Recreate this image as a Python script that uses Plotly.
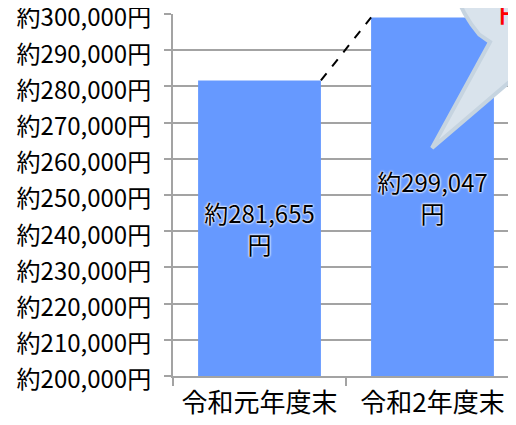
import math
import plotly.graph_objects as go

# --- Data ---
categories = ['令和元年度末', '令和2年度末']
values = [281655, 299047]
bar_labels = ['約281,655<br>円', '約299,047<br>円']
Y_MIN, Y_MAX, Y_STEP = 200000, 300000, 10000
y_ticks = list(range(Y_MIN, Y_MAX + 1, Y_STEP))

# --- Layout constants (pixels) ---
OFF = 8  # page body margin
W, H = 516 - OFF, 425 - OFF
M_L, M_T, M_B = 173 - OFF, 14 - OFF, 49
PLOT_W = W - M_L
PLOT_H = H - M_T - M_B
BARGAP = 0.29
FONT = 'Noto Sans CJK JP'
GREY = '#a3a3a3'


def px_to_paper(px, py):
    # px, py in window pixels
    return (px - OFF - M_L) / PLOT_W, (H - M_B - (py - OFF)) / PLOT_H


fig = go.Figure()
# bars start at the axis floor so the inside labels sit in the visible part
fig.add_trace(go.Bar(
    x=categories, y=[v - Y_MIN for v in values], base=[Y_MIN] * len(values),
    text=bar_labels, textposition='inside', insidetextanchor='middle',
    textangle=0,
    textfont=dict(family=FONT, size=24, color='black',
                  shadow='0 0 2px white, 0 0 2px white, 0 0 3px white'),
    marker=dict(color='#6699ff', line=dict(width=0)),
    hoverinfo='skip', cliponaxis=False,
))

# dashed connector between bar tops
half = (1 - BARGAP) / 2
fig.add_shape(type='line', xref='x', yref='y',
              x0=0 + half, y0=values[0], x1=1 - half, y1=values[1],
              line=dict(color='black', width=2, dash='dash'))

# speech bubble (circle + tail), built in pixels then mapped to paper
cx, cy, r = 578, -50, 130
tail_l, tip, tail_r = (490, 42), (432, 148), (528, 66)
a_start = math.atan2(tail_r[1] - cy, tail_r[0] - cx)
a_end = math.atan2(tail_l[1] - cy, tail_l[0] - cx) - 2 * math.pi
pts = [tail_l, tip, tail_r]
n = 60
for i in range(1, n):
    a = a_start + (a_end - a_start) * i / n
    pts.append((cx + r * math.cos(a), cy + r * math.sin(a)))
path = 'M ' + ' L '.join('%.4f,%.4f' % px_to_paper(*p) for p in pts) + ' Z'
fig.add_shape(type='path', xref='paper', yref='paper', path=path,
              fillcolor='#d9e3ec', line=dict(color='#c6d4e0', width=4),
              layer='above')

x_p, y_p = px_to_paper(497, 12)
fig.add_annotation(text='<b>円</b>', xref='paper', yref='paper', x=x_p, y=y_p,
                   xanchor='left', yanchor='middle', showarrow=False,
                   font=dict(family=FONT, size=24, color='#ff0000'))

fig.update_layout(
    width=W, height=H,
    margin=dict(l=M_L, r=0, t=M_T, b=M_B, pad=0, autoexpand=False),
    paper_bgcolor='white', plot_bgcolor='white',
    bargap=BARGAP, showlegend=False,
    font=dict(family=FONT, color='black'),
    xaxis=dict(
        type='category', range=[-0.5, -0.5 + PLOT_W / 173],
        showline=True, linecolor=GREY, linewidth=2,
        ticks='outside', tickson='boundaries', ticklen=8,
        tickcolor=GREY, tickwidth=2, showgrid=False, automargin=False,
        ticklabelstandoff=3,
        tickfont=dict(family=FONT, size=26, color='black'),
    ),
    yaxis=dict(
        range=[Y_MIN, Y_MAX], tickvals=y_ticks,
        ticktext=['約{:,}円'.format(v) for v in y_ticks],
        showline=True, linecolor=GREY, linewidth=2,
        ticks='outside', ticklen=7, tickcolor=GREY, tickwidth=2,
        showgrid=True, gridcolor=GREY, gridwidth=2, zeroline=False,
        automargin=False, ticklabeloverflow='allow',
        ticklabelstandoff=8, ticklabelshift=4,
        tickfont=dict(family=FONT, size=24, color='black'),
    ),
)

fig.write_html('out.html')
